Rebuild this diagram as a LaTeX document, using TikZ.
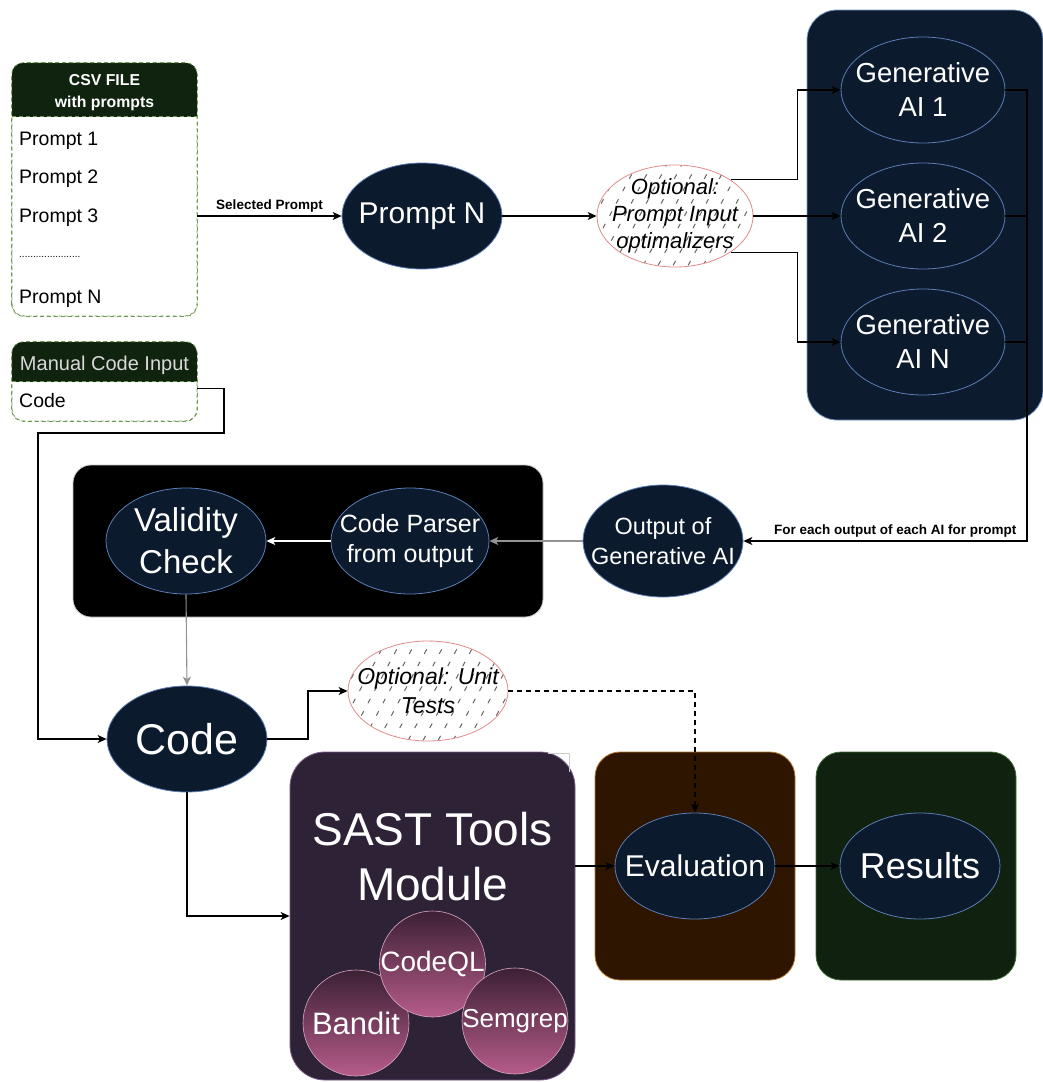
\documentclass[tikz,border=0pt]{standalone}
\usepackage{fontspec}
\setmainfont{Liberation Sans}
\usetikzlibrary{shapes.geometric,arrows.meta,calc}
\definecolor{navy}{HTML}{0C1A2D}
\definecolor{ellborder}{HTML}{5B7DB5}
\definecolor{genbox}{HTML}{0D1B2E}
\definecolor{genborder}{HTML}{7F9CC8}
\definecolor{hdrgreen}{HTML}{10230F}
\definecolor{tblborder}{HTML}{6F9A55}
\definecolor{optred}{HTML}{E08C8C}
\definecolor{hatchcol}{HTML}{6E6262}
\definecolor{sastfill}{HTML}{2E2236}
\definecolor{sastborder}{HTML}{7A5A8A}
\definecolor{evalfill}{HTML}{2D1500}
\definecolor{evalborder}{HTML}{B3772A}
\definecolor{resfill}{HTML}{10220F}
\definecolor{resborder}{HTML}{406B36}
\definecolor{circtop}{HTML}{3C2034}
\definecolor{circbot}{HTML}{B65C8A}
\definecolor{circborder}{HTML}{D9A7C7}
\definecolor{lightgraytxt}{HTML}{D9D9D9}
\newcommand\fsz[2]{\fontsize{#1}{#2}\selectfont}
\begin{document}
\begin{tikzpicture}[x=1pt,y=-1pt,
  darkell/.style={ellipse, draw=ellborder, line width=0.8pt, fill=navy, text=white, align=center,
     minimum width=160pt, minimum height=106pt, inner xsep=-40pt, inner ysep=-30pt},
  hatchell/.style={ellipse, draw=optred, line width=0.8pt, align=center,
     inner xsep=-40pt, inner ysep=-30pt},
  hatch/.style={draw=hatchcol, line width=1pt, dash pattern=on 5pt off 9pt},
  tbl/.style={draw=tblborder, dashed, line width=0.8pt, rounded corners=12pt, fill=white, inner sep=0pt},
  roundbox/.style={line width=0.8pt, inner sep=0pt},
  tool/.style={circle, draw=circborder, line width=0.6pt, top color=circtop, bottom color=circbot,
     text=white, minimum size=106pt, inner sep=-6pt},
  arr/.style={draw=black, line width=1.1pt, -{Stealth[length=9pt,width=8pt,inset=2.5pt]}},
  plain/.style={draw=black, line width=1.1pt},
  grayarr/.style={draw=gray!85, line width=1.1pt, -{Stealth[length=9pt,width=8pt,inset=2.5pt]}},
  whitearr/.style={draw=white, line width=1.1pt, -{Stealth[length=9pt,width=8pt,inset=2.5pt]}},
  elabel/.style={font=\fsz{13.5}{16}\bfseries, inner sep=3pt},
  rowtxt/.style={anchor=base west, font=\fsz{19.5}{22}, inner sep=0pt}
]
\useasboundingbox[fill=white] (0,0) rectangle (1043,1082);

% ---------- background boxes ----------
\node[roundbox, draw=genborder, fill=genbox, rounded corners=30pt, minimum width=236pt, minimum height=410pt] (gbox) at (925,215) {};
\node[roundbox, draw=gray!45, fill=black, rounded corners=18pt, minimum width=470pt, minimum height=152pt] (bbox) at (308,541) {};
\node[roundbox, draw=sastborder, fill=sastfill, rounded corners=35pt, minimum width=285pt, minimum height=328pt] (sast) at (432.5,916) {};
\node[roundbox, draw=evalborder, fill=evalfill, rounded corners=25pt, minimum width=200pt, minimum height=228pt] (evbox) at (695,866) {};
\node[roundbox, draw=resborder, fill=resfill, rounded corners=25pt, minimum width=200pt, minimum height=228pt] (resbox) at (916,866) {};
\draw[gray!40, line width=0.6pt] (548,753) -- (569,753) -- (569,772);

% ---------- CSV table ----------
\node[tbl, minimum width=185pt, minimum height=253pt] (csv) at (104.5,189.5) {};
\begin{scope}
  \clip[rounded corners=12pt] (csv.south west) rectangle (csv.north east);
  \fill[hdrgreen] (csv.north west) rectangle ($(csv.north east)+(0,54)$);
\end{scope}
\draw[draw=tblborder, dash pattern=on 4pt off 3pt, line width=0.8pt, rounded corners=12pt] (csv.south west) rectangle (csv.north east);
\draw[draw=tblborder, dash pattern=on 4pt off 3pt, line width=0.8pt] ($(csv.north west)+(0,54)$) -- ($(csv.north east)+(0,54)$);
\node[text=white, font=\fsz{15.8}{18}\bfseries, inner sep=0pt] (csvh1) at (104.5,80) {CSV FILE};
\node[text=white, font=\fsz{15.8}{18}\bfseries, inner sep=0pt] (csvh2) at (104.5,103) {with prompts};
\node[rowtxt] (p1) at (19,145) {Prompt 1};
\node[rowtxt] (p2) at (19,183) {Prompt 2};
\node[rowtxt] (p3) at (19,222) {Prompt 3};
\node[anchor=west, font=\fsz{10}{12}, inner sep=0pt] (pdots) at (19,257) {......................};
\node[rowtxt] (pn1) at (19,303) {Prompt N};

% ---------- Manual code input table ----------
\node[tbl, minimum width=185pt, minimum height=79pt] (mci) at (104.5,381.5) {};
\begin{scope}
  \clip[rounded corners=12pt] (mci.south west) rectangle (mci.north east);
  \fill[hdrgreen] (mci.north west) rectangle ($(mci.north east)+(0,40)$);
\end{scope}
\draw[draw=tblborder, dash pattern=on 4pt off 3pt, line width=0.8pt, rounded corners=12pt] (mci.south west) rectangle (mci.north east);
\draw[draw=tblborder, dash pattern=on 4pt off 3pt, line width=0.8pt] ($(mci.north west)+(0,40)$) -- ($(mci.north east)+(0,40)$);
\node[text=lightgraytxt, font=\fsz{20}{22}, anchor=base, inner sep=0pt] (mcih) at (104.5,370) {Manual Code Input};
\node[rowtxt] (mcicode) at (19,407) {Code};

% ---------- hatched optional ellipses ----------
\begin{scope}
  \clip (675,216) ellipse [x radius=78pt, y radius=51pt];
  \foreach \i in {0,...,21} \draw[hatch] ({540+\i*15},290) -- ({540+\i*15+80},140);
\end{scope}
\node[hatchell, minimum width=156pt, minimum height=102pt, font=\fsz{22}{27}\itshape] (opt) at (675,216) {Optional:\\Prompt Input\\optimalizers};

\begin{scope}
  \clip (428,691) ellipse [x radius=80pt, y radius=50pt];
  \foreach \i in {0,...,21} \draw[hatch] ({290+\i*15},765) -- ({290+\i*15+80},615);
\end{scope}
\node[hatchell, minimum width=160pt, minimum height=100pt, font=\fsz{23}{29}\itshape] (ut) at (428,691) {Optional: Unit\\Tests};

% ---------- dark ellipses ----------
\node[darkell, font=\fsz{30}{34}] (pn) at (422,216) {Prompt N};
\node[darkell, minimum width=164pt, font=\fsz{27.5}{34}] (g1) at (923,90) {Generative\\AI 1};
\node[darkell, minimum width=164pt, font=\fsz{27.5}{34}] (g2) at (923,216) {Generative\\AI 2};
\node[darkell, minimum width=164pt, font=\fsz{27.5}{34}] (gN) at (923,342) {Generative\\AI N};
\node[darkell, minimum height=112pt, font=\fsz{23.5}{29.5}] (out) at (663,541) {Output of\\Generative AI};
\node[darkell, minimum width=158pt, font=\fsz{25}{30}] (cp) at (410,541) {Code Parser\\from output};
\node[darkell, font=\fsz{33}{42}] (vc) at (186,541) {Validity\\Check};
\node[darkell, font=\fsz{43}{50}] (code) at (187,739) {Code};
\node[darkell, font=\fsz{30}{34}] (ev) at (695,866) {Evaluation};
\node[darkell, font=\fsz{36}{40}] (res) at (920,866) {Results};

% ---------- SAST module ----------
\node[text=white, align=center, font=\fsz{46}{55}, inner sep=0pt] (sasttxt) at (432.5,857) {SAST Tools\\Module};
\node[tool, font=\fsz{31}{34}] (bandit) at (356,1023) {Bandit};
\node[tool, font=\fsz{28}{32}] (codeql) at (432.5,964) {CodeQL};
\node[tool, font=\fsz{26}{30}] (semgrep) at (515,1021) {Semgrep};

% ---------- connectors ----------
\draw[arr] (csv.east |- pn.west) -- node[elabel, above] {Selected Prompt} (pn.west);
\draw[arr] (pn.east) -- (opt.west);
\draw[arr] (opt.33) -| ([xshift=-43pt]g1.west) -- (g1.west);
\draw[arr] (opt.east) -- (g2.west);
\draw[arr] (opt.-33) -| ([xshift=-43pt]gN.west) -- (gN.west);

\coordinate (rj) at (1027,541);
\draw[plain] (g2.east) -- (g2.east -| rj);
\draw[plain] (gN.east) -- (gN.east -| rj);
\draw[arr] (g1.east) -| (rj) -- node[elabel, above, xshift=10pt] {For each output of each AI for prompt} (out.east);

\draw[grayarr] (out.west) -- (cp.east);
\draw[whitearr] (cp.west) -- (vc.east);
\draw[grayarr] (vc.south) -- (code.north);

\draw[arr] ([yshift=-7pt]mci.east) -- (224,388.5) -- (224,433) -- (38,433) -- (38,739) -- (code.west);
\draw[arr] (code.east) -- (308,739) |- (ut.west);
\draw[arr, dash pattern=on 5pt off 4pt] (ut.east) -| (ev.north);
\draw[arr] (code.south) |- (sast.west);
\draw[arr] (sast.east |- ev.west) -- (ev.west);
\draw[arr] (ev.east) -- (res.west);
\end{tikzpicture}
\end{document}
